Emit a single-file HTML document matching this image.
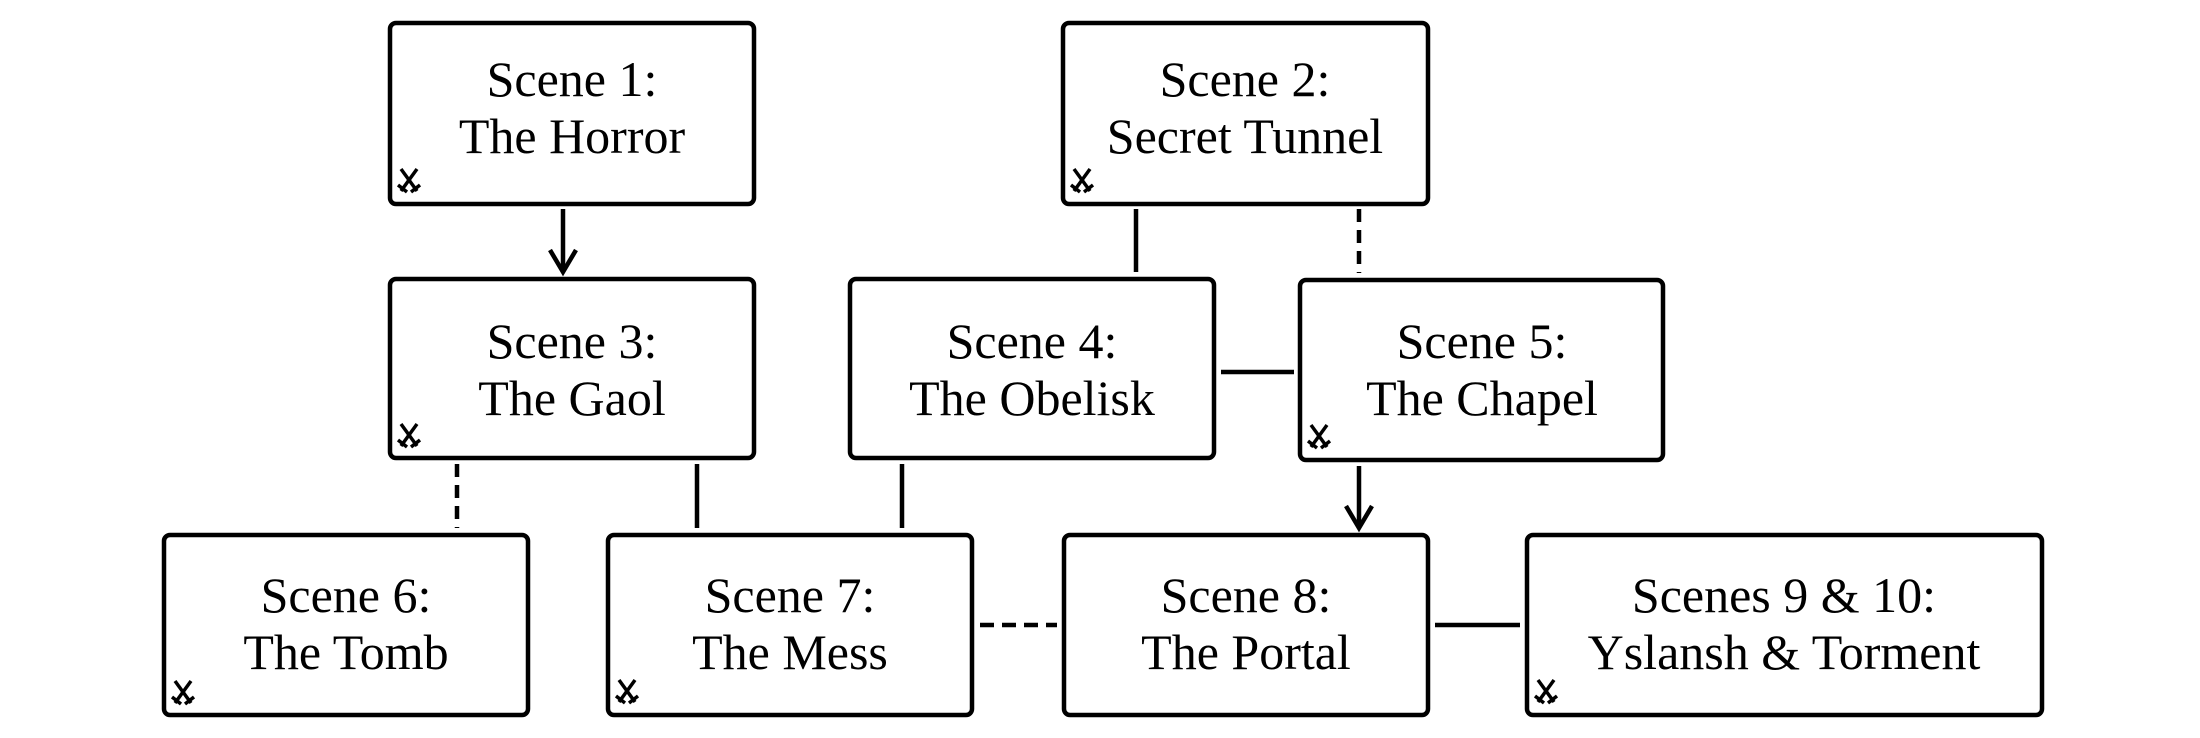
<!DOCTYPE html>
<html><head><meta charset="utf-8"><style>
html,body{margin:0;padding:0;background:#fff;}
svg{display:block;}
text{font-family:"Liberation Serif",serif;font-size:50px;fill:#000;text-anchor:middle;}
</style></head><body>
<svg width="2200" height="738" viewBox="0 0 2200 738" xmlns="http://www.w3.org/2000/svg">
<defs>
<g id="sw">
<line x1="3" y1="0" x2="19" y2="22" stroke="#000" stroke-width="3.5"/>
<line x1="19" y1="0" x2="3" y2="22" stroke="#000" stroke-width="3.5"/>
<line x1="0" y1="16" x2="9" y2="23" stroke="#000" stroke-width="3.5"/>
<line x1="22" y1="16" x2="13" y2="23" stroke="#000" stroke-width="3.5"/>
</g>
</defs>
<g fill="#fff" stroke="#000" stroke-width="4.5">
<rect x="390" y="23" width="364" height="181" rx="6"/>
<rect x="1063" y="23" width="365" height="181" rx="6"/>
<rect x="390" y="279" width="364" height="179" rx="6"/>
<rect x="850" y="279" width="364" height="179" rx="6"/>
<rect x="1300" y="280" width="363" height="180" rx="6"/>
<rect x="164" y="535" width="364" height="180" rx="6"/>
<rect x="608" y="535" width="364" height="180" rx="6"/>
<rect x="1064" y="535" width="364" height="180" rx="6"/>
<rect x="1527" y="535" width="515" height="180" rx="6"/>
</g>
<g stroke="#000" stroke-width="4.5" fill="none">
<line x1="563" y1="209" x2="563" y2="272"/>
<polyline points="550,250 563,272 576,250"/>
<line x1="457" y1="464" x2="457" y2="528" stroke-dasharray="13,8"/>
<line x1="697" y1="464" x2="697" y2="528"/>
<line x1="902" y1="464" x2="902" y2="528"/>
<line x1="980" y1="625" x2="1057" y2="625" stroke-dasharray="14,8"/>
<line x1="1136" y1="209" x2="1136" y2="272"/>
<line x1="1359" y1="209" x2="1359" y2="273" stroke-dasharray="13,8"/>
<line x1="1221" y1="372" x2="1294" y2="372"/>
<line x1="1359" y1="466" x2="1359" y2="528"/>
<polyline points="1346,506 1359,528 1372,506"/>
<line x1="1435" y1="625" x2="1520" y2="625"/>
</g>
<text x="572" y="96">Scene 1:</text><text x="572" y="153">The Horror</text>
<text x="1245" y="96">Scene 2:</text><text x="1245" y="153">Secret Tunnel</text>
<text x="572" y="358">Scene 3:</text><text x="572" y="415">The Gaol</text>
<text x="1032" y="358">Scene 4:</text><text x="1032" y="415">The Obelisk</text>
<text x="1482" y="358">Scene 5:</text><text x="1482" y="415">The Chapel</text>
<text x="346" y="612">Scene 6:</text><text x="346" y="669">The Tomb</text>
<text x="790" y="612">Scene 7:</text><text x="790" y="669">The Mess</text>
<text x="1246" y="612">Scene 8:</text><text x="1246" y="669">The Portal</text>
<text x="1784" y="612">Scenes 9 &amp; 10:</text><text x="1784" y="669">Yslansh &amp; Torment</text>
<use href="#sw" x="398" y="169"/>
<use href="#sw" x="1071" y="169"/>
<use href="#sw" x="398" y="424"/>
<use href="#sw" x="1308" y="425"/>
<use href="#sw" x="172" y="681"/>
<use href="#sw" x="616" y="680"/>
<use href="#sw" x="1535" y="680"/>
</svg>
</body></html>
